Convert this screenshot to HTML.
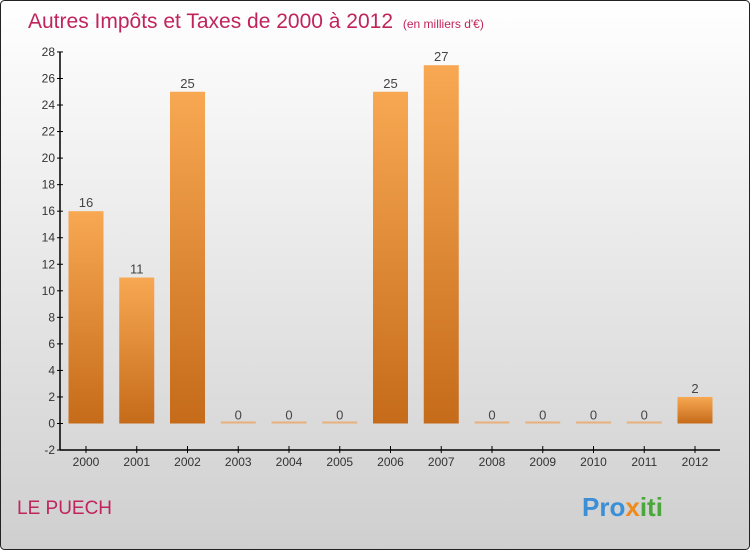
<!DOCTYPE html>
<html><head><meta charset="utf-8"><style>
body{margin:0}
svg text{font-family:"Liberation Sans",sans-serif}
</style></head><body>
<svg width="750" height="550" xmlns="http://www.w3.org/2000/svg">
<defs>
<linearGradient id="bg" x1="0" y1="0" x2="0" y2="1"><stop offset="0" stop-color="#ffffff"/><stop offset="1" stop-color="#cfcfcf"/></linearGradient>
<linearGradient id="bar" x1="0" y1="0" x2="0" y2="1"><stop offset="0" stop-color="#f8a852"/><stop offset="1" stop-color="#c56b1a"/></linearGradient>
</defs>
<rect x="0.5" y="0.5" width="749" height="549" rx="4" fill="url(#bg)" stroke="#222"/>
<text x="28" y="28" font-size="21" fill="#c0245c">Autres Impôts et Taxes de 2000 à 2012 <tspan font-size="12" dx="4">(en milliers d'€)</tspan></text>
<g id="axes"></g>
<g id="bars"></g>
<text x="17" y="514" font-size="19" fill="#c0245c">LE PUECH</text>
<text x="582" y="516" font-size="26" font-weight="bold"><tspan fill="#3a8fd6">Pro</tspan><tspan fill="#f08a1c">x</tspan><tspan fill="#4aa83a">iti</tspan></text>
</svg>
<script>
const categories=["2000","2001","2002","2003","2004","2005","2006","2007","2008","2009","2010","2011","2012"];
const values=[16,11,25,0,0,0,25,27,0,0,0,0,2];
const yTicks=[-2,0,2,4,6,8,10,12,14,16,18,20,22,24,26,28];
const NS="http://www.w3.org/2000/svg";
const y=v=>423.5-v*13.27;
const x=i=>86+i*50.75;
const ax=document.getElementById('axes'),bg=document.getElementById('bars');
function mk(t,a,p){const e=document.createElementNS(NS,t);for(const k in a)e.setAttribute(k,a[k]);p.appendChild(e);return e;}
let yl=mk('line',{x1:60,y1:y(28),x2:60,y2:y(-2),stroke:'#000','stroke-width':1.5},ax);


let xl=mk('line',{x1:60,y1:y(-2),x2:720,y2:y(-2),stroke:'#000','stroke-width':1.5},ax);


yTicks.forEach(v=>{
 mk('line',{x1:57,y1:y(v),x2:63,y2:y(v),stroke:'#000'},ax);
 const t=mk('text',{x:55,y:y(v)+4,'font-size':12,fill:'#333','text-anchor':'end'},ax);t.textContent=v;
 
 
});
categories.forEach((c,i)=>{
 mk('line',{x1:x(i),y1:y(-2)-4,x2:x(i),y2:y(-2)+3,stroke:'#000'},ax);
 const t=mk('text',{x:x(i),y:466,'font-size':12,fill:'#333','text-anchor':'middle'},ax);t.textContent=c;
 
 
 const v=values[i];
 const h=Math.max(y(0)-y(v),2);
 const r=mk('rect',{x:x(i)-17.5,y:y(0)-h,width:35,height:h,fill:v>0?'url(#bar)':'#e8b07a'},bg);
 
 
 const l=mk('text',{x:x(i),y:y(v)-4,'font-size':13,fill:'#444','text-anchor':'middle'},bg);l.textContent=v;
 
 
});
</script>
</body></html>
